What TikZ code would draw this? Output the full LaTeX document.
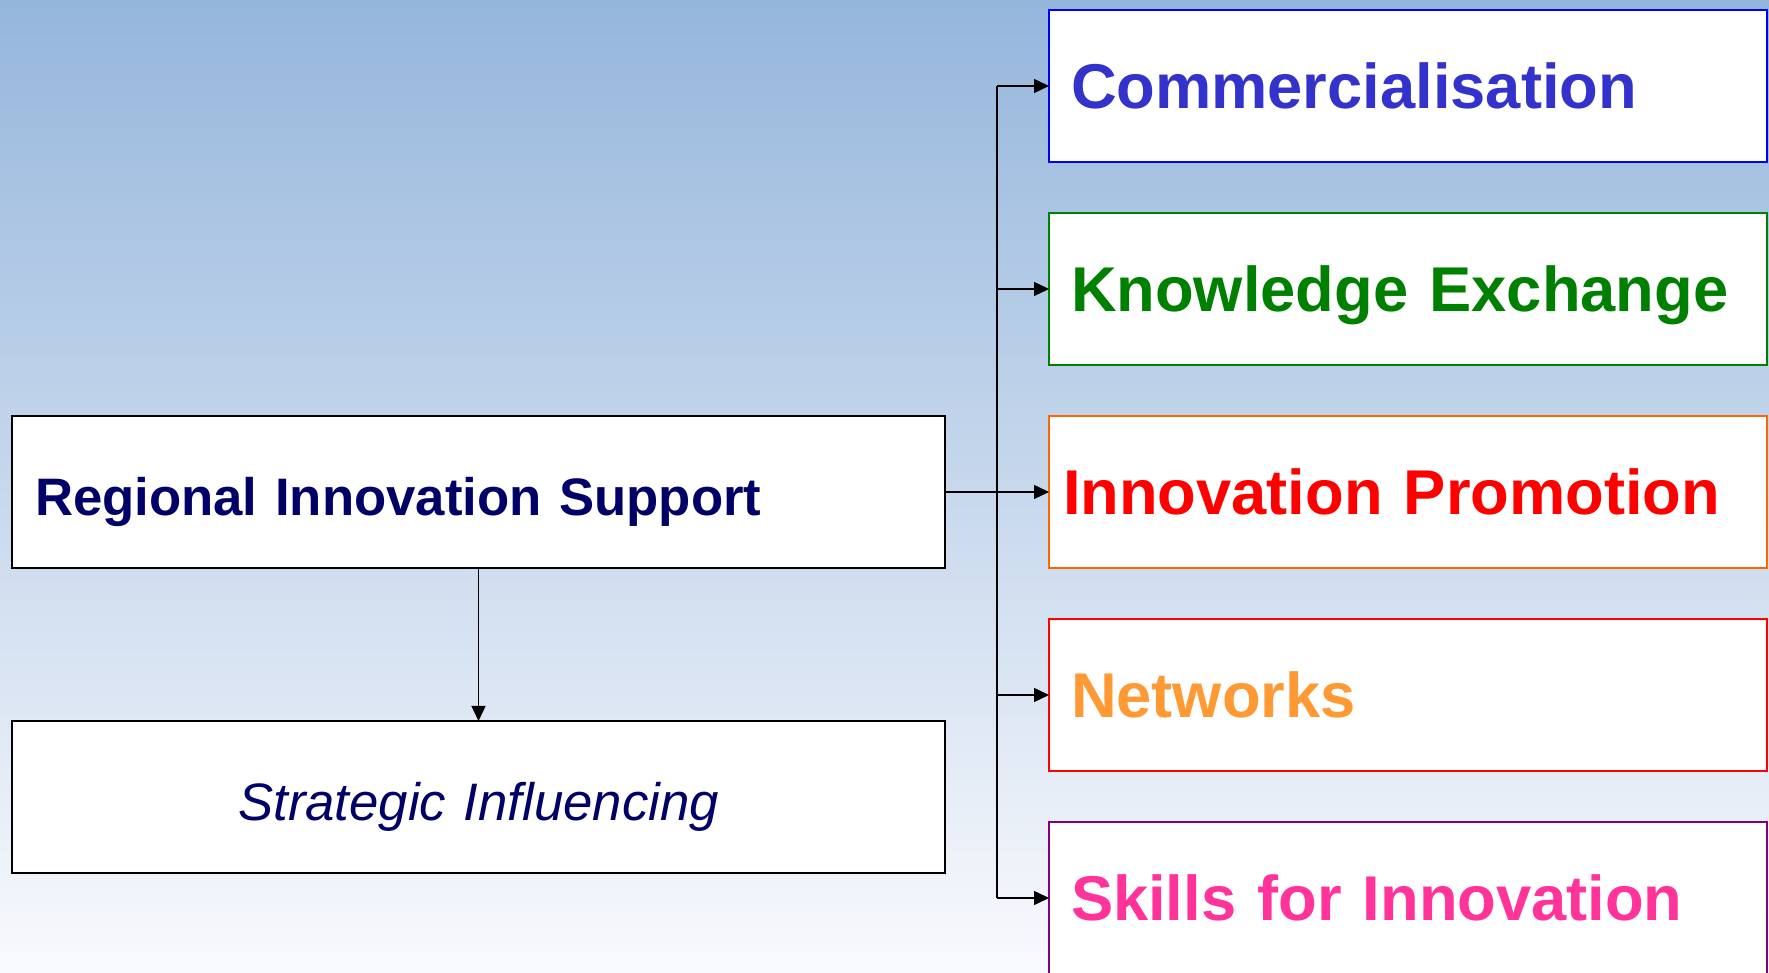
\documentclass[tikz,border=0pt]{standalone}
\usepackage{fontspec}
\setmainfont{Liberation Sans}
\usetikzlibrary{
    positioning, % posicionamento relativo (ex: below=of)
    arrows.meta  % pontas de seta (ex: Triangle)
}
\definecolor{navytext}{HTML}{000066}
\definecolor{bgtop}{HTML}{95B6DC}
\definecolor{bgbottom}{HTML}{F9FAFD}
\definecolor{commtext}{HTML}{3333CC}
\definecolor{commline}{HTML}{0000FF}
\definecolor{knowgreen}{HTML}{008000}
\definecolor{promotext}{HTML}{FF0000}
\definecolor{promoline}{HTML}{FF6600}
\definecolor{nettext}{HTML}{FF9933}
\definecolor{netline}{HTML}{FF0000}
\definecolor{skilltext}{HTML}{FF3399}
\definecolor{skillline}{HTML}{800080}

\begin{document}
\begin{tikzpicture}

    % --- Estilos ---
    \tikzset{
        % caixas da esquerda (apoio regional)
        support_box/.style={
            draw=black,
            line width=0.6pt,
            outer sep=0pt,
            fill=white,
            minimum height=1.52cm,
            text width=8.87cm,
            inner xsep=0.23cm,
            text=navytext,
            font=\fontsize{15}{18}\selectfont,
            text height=13.5pt,
            text depth=0pt
        },
        % caixas das areas (direita), cor da borda como argumento
        area_box/.style={
            draw=#1,
            line width=0.6pt,
            outer sep=0pt,
            fill=white,
            minimum height=1.52cm,
            text width=6.74cm,
            inner xsep=0.22cm,
            align=left,
            font=\fontsize{18}{21}\selectfont\bfseries,
            text height=12.9pt,
            text depth=0pt
        },
        % setas de ligacao
        link_arrow/.style={
            -{Triangle[length=1.5mm, width=1.4mm]},
            line width=0.4pt
        }
    }

    % --- Fundo em degrade ---
    \useasboundingbox (0,0) rectangle (17.69,9.73);
    \shade[top color=bgtop, bottom color=bgbottom] (0,0) rectangle (17.69,9.73);

    % --- Caixas da esquerda ---
    \node[support_box, align=left] (ris) at (4.785,4.81) {\bfseries Regional Innovation Support};
    \node[support_box, align=center, below=1.53cm of ris] (infl) {\itshape Strategic Influencing};

    % --- Caixas das areas ---
    \node[area_box=promoline, text=promotext, inner xsep=0.14cm, text width=6.90cm, right=1.04cm of ris] (promo) {Innovation Promotion};
    \node[area_box=knowgreen, text=knowgreen, above=0.51cm of promo] (know) {Knowledge Exchange};
    \node[area_box=commline, text=commtext, above=0.51cm of know] (comm) {Commercialisation};
    \node[area_box=netline, text=nettext, below=0.51cm of promo] (netw) {Networks};
    \node[area_box=skillline, text=skilltext, below=0.51cm of netw] (skills) {Skills for Innovation};

    % --- Ligacoes ---
    \coordinate[right=0.52cm of ris.east] (hub);
    \draw[line width=0.4pt] (ris.east) -- (hub);
    \draw[line width=0.4pt] (hub |- comm.west) -- (hub |- skills.west);
    \foreach \area in {comm, know, promo, netw, skills}
        \draw[link_arrow] (hub |- \area.west) -- (\area.west);

    \draw[link_arrow] (ris.south) -- (infl.north);

\end{tikzpicture}
\end{document}
